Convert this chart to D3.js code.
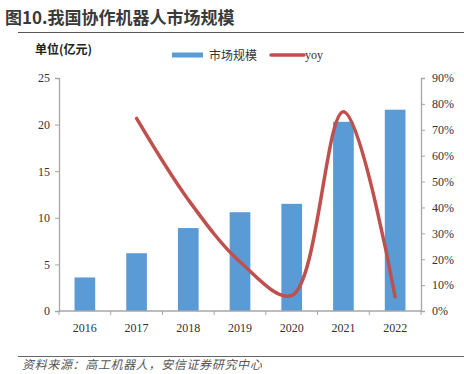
<!DOCTYPE html>
<html>
<head>
<meta charset="utf-8">
<script src="https://cdn.jsdelivr.net/npm/d3@7"></script>
<style>
  body { margin: 0; background: #fff; }
  svg { display: block; }
</style>
</head>
<body>
<div id="chart"></div>
<script>
var years = ["2016", "2017", "2018", "2019", "2020", "2021", "2022"];
var marketSize = [3.6, 6.2, 8.9, 10.6, 11.5, 20.3, 21.6]; // 亿元
var yoyYears = ["2017", "2018", "2019", "2020", "2021", "2022"];
var yoyValues = [0.744, 0.43, 0.19, 0.06, 0.77, 0.055];
var leftTicks = [0, 5, 10, 15, 20, 25];
var rightTicks = [0, 0.1, 0.2, 0.3, 0.4, 0.5, 0.6, 0.7, 0.8, 0.9];

var width = 464, height = 374;
var margin = { top: 78, bottom: 63, left: 59, right: 43 };

var svg = d3.select("#chart").append("svg")
  .attr("width", width)
  .attr("height", height);

// title
svg.append("text")
  .attr("x", 5)
  .attr("y", 24)
  .style("font", "bold 17px 'Noto Sans CJK SC', sans-serif")
  .style("fill", "#3a3a3a")
  .text("图10.我国协作机器人市场规模");

svg.append("line")
  .attr("x1", 18).attr("x2", width)
  .attr("y1", 32.5).attr("y2", 32.5)
  .style("stroke", "#555")
  .style("stroke-width", 1.2);

svg.append("text")
  .attr("x", 35)
  .attr("y", 54)
  .style("font", "bold 12px 'Noto Sans CJK SC', sans-serif")
  .style("fill", "#222")
  .text("单位(亿元)");

// legend
svg.append("rect")
  .attr("x", 172).attr("y", 52.5)
  .attr("width", 31).attr("height", 5)
  .style("fill", "#5b9bd5");
svg.append("text")
  .attr("x", 209).attr("y", 59.5)
  .style("font", "12px 'Noto Sans CJK SC', sans-serif")
  .style("fill", "#333")
  .text("市场规模");
svg.append("line")
  .attr("x1", 271).attr("x2", 304)
  .attr("y1", 55).attr("y2", 55)
  .style("stroke", "#c0504d")
  .style("stroke-width", 3.5)
  .style("stroke-linecap", "round");
svg.append("text")
  .attr("x", 305).attr("y", 59)
  .style("font", "12px 'Liberation Serif', serif")
  .style("fill", "#333")
  .text("yoy");

var x = d3.scaleBand()
  .domain(years)
  .range([margin.left, width - margin.right])
  .paddingInner(0.6)
  .paddingOuter(0.3);

var xBand = d3.scaleBand()
  .domain(years)
  .range([margin.left, width - margin.right]);

var yLeft = d3.scaleLinear()
  .domain([0, 25])
  .range([height - margin.bottom, margin.top]);

var yRight = d3.scaleLinear()
  .domain([0, 0.9])
  .range([height - margin.bottom, margin.top]);

// bars
svg.selectAll("rect.bar")
  .data(years)
  .enter()
  .append("rect")
  .attr("class", "bar")
  .attr("x", function(d) { return x(d); })
  .attr("width", x.bandwidth())
  .attr("y", function(d, i) { return yLeft(marketSize[i]); })
  .attr("height", function(d, i) { return yLeft(0) - yLeft(marketSize[i]); })
  .style("fill", "#5b9bd5");

// axes
var axisColor = "#a6a6a6";
var tickFont = "12px 'Liberation Serif', serif";

var leftAxis = svg.append("g")
  .attr("transform", "translate(" + margin.left + ",0)")
  .call(d3.axisLeft(yLeft).tickValues(leftTicks).tickSize(4).tickPadding(5));

var rightAxis = svg.append("g")
  .attr("transform", "translate(" + (width - margin.right) + ",0)")
  .call(d3.axisRight(yRight).tickValues(rightTicks).tickSize(4).tickPadding(7)
    .tickFormat(d3.format(".0%")));

var bottomAxis = svg.append("g")
  .attr("transform", "translate(0," + yLeft(0) + ")")
  .call(d3.axisBottom(xBand).tickSize(0).tickPadding(12));

// category separators
svg.selectAll("line.sep")
  .data(d3.range(years.length + 1))
  .enter()
  .append("line")
  .attr("class", "sep")
  .attr("x1", function(i) { return margin.left + i * xBand.step(); })
  .attr("x2", function(i) { return margin.left + i * xBand.step(); })
  .attr("y1", yLeft(0))
  .attr("y2", yLeft(0) + 4)
  .style("stroke", axisColor);

[leftAxis, rightAxis, bottomAxis].forEach(function(g) {
  g.select(".domain").style("stroke", axisColor).style("stroke-width", 1.3);
  g.selectAll(".tick line").style("stroke", axisColor);
  g.selectAll(".tick text").style("font", tickFont).style("fill", "#333");
});
bottomAxis.select(".domain").attr("d", "M" + margin.left + ",0H" + (width - margin.right));

// yoy line
var line = d3.line()
  .curve(d3.curveCatmullRom.alpha(0.5))
  .x(function(d) { return xBand(d) + xBand.bandwidth() / 2; })
  .y(function(d, i) { return yRight(yoyValues[i]); });

svg.append("path")
  .datum(yoyYears)
  .attr("d", line)
  .style("fill", "none")
  .style("stroke", "#c0504d")
  .style("stroke-width", 3.5)
  .style("stroke-linecap", "round");

// source
svg.append("line")
  .attr("x1", 18).attr("x2", width)
  .attr("y1", 356.5).attr("y2", 356.5)
  .style("stroke", "#666")
  .style("stroke-width", 1);

svg.append("text")
  .attr("x", 22)
  .attr("y", 369)
  .style("font", "italic 12px 'Noto Sans CJK SC', sans-serif")
  .style("letter-spacing", "0.65px")
  .style("fill", "#555")
  .text("资料来源：高工机器人，安信证券研究中心");
</script>
</body>
</html>
